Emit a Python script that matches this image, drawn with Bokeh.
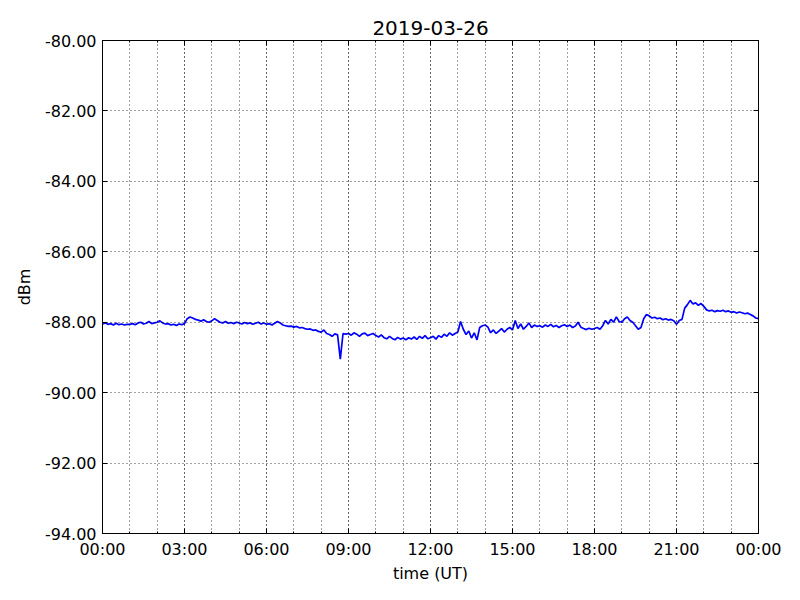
import numpy as np
from bokeh.plotting import figure
from bokeh.models import FixedTicker, PrintfTickFormatter, LinearAxis, ColumnDataSource
from bokeh.embed import file_html
from bokeh.resources import INLINE

title_text = "2019-03-26"
x_label = "time (UT)"
y_label = "dBm"
step_minutes = 6

# signal level (dBm), 10 samples per hour (every 6 minutes)
h00 = [-88.05, -88.02, -88.06, -88.04, -88.08, -88.03, -88.07, -88.05, -88.08, -88.06]
h01 = [-88.06, -88.04, -88.07, -88.02, -88.00, -88.05, -88.03, -87.98, -88.04, -88.02]
h02 = [-88.00, -87.96, -88.02, -88.05, -88.04, -88.08, -88.06, -88.09, -88.05, -88.07]
h03 = [-88.04, -87.90, -87.85, -87.88, -87.92, -87.94, -87.97, -87.93, -87.98, -88.00]
h04 = [-87.96, -87.90, -87.95, -88.00, -88.02, -87.98, -88.03, -88.01, -88.04, -88.00]
h05 = [-88.02, -88.05, -88.01, -88.04, -88.02, -88.06, -88.03, -88.00, -88.05, -88.02]
h06 = [-88.06, -88.04, -88.08, -88.03, -87.98, -88.02, -88.08, -88.10, -88.12, -88.11]
h07 = [-88.14, -88.12, -88.16, -88.15, -88.18, -88.20, -88.19, -88.23, -88.22, -88.26]
h08 = [-88.28, -88.22, -88.32, -88.35, -88.40, -88.33, -88.36, -89.05, -88.32, -88.34]
h09 = [-88.32, -88.37, -88.30, -88.34, -88.40, -88.33, -88.31, -88.38, -88.35, -88.32]
h10 = [-88.38, -88.42, -88.36, -88.44, -88.47, -88.40, -88.46, -88.50, -88.43, -88.48]
h11 = [-88.45, -88.50, -88.44, -88.48, -88.42, -88.49, -88.40, -88.46, -88.38, -88.47]
h12 = [-88.44, -88.40, -88.48, -88.38, -88.43, -88.34, -88.40, -88.30, -88.37, -88.32]
h13 = [-88.28, -87.98, -88.20, -88.35, -88.25, -88.45, -88.30, -88.50, -88.15, -88.10]
h14 = [-88.08, -88.14, -88.30, -88.22, -88.32, -88.25, -88.18, -88.28, -88.20, -88.15]
h15 = [-88.22, -87.95, -88.18, -88.05, -88.20, -88.12, -88.02, -88.15, -88.08, -88.12]
h16 = [-88.10, -88.14, -88.08, -88.12, -88.06, -88.13, -88.09, -88.15, -88.10, -88.07]
h17 = [-88.12, -88.08, -88.15, -88.11, -88.00, -88.14, -88.18, -88.21, -88.17, -88.20]
h18 = [-88.18, -88.15, -88.20, -88.10, -87.95, -88.05, -87.92, -88.00, -87.85, -87.98]
h19 = [-88.00, -87.90, -87.85, -87.95, -88.00, -88.10, -88.20, -88.15, -87.90, -87.78]
h20 = [-87.82, -87.88, -87.86, -87.90, -87.88, -87.93, -87.90, -87.94, -87.92, -87.96]
h21 = [-88.06, -87.95, -87.92, -87.60, -87.50, -87.38, -87.48, -87.45, -87.52, -87.47]
h22 = [-87.55, -87.65, -87.68, -87.66, -87.70, -87.67, -87.69, -87.66, -87.70, -87.68]
h23 = [-87.72, -87.70, -87.74, -87.71, -87.73, -87.76, -87.74, -87.78, -87.82, -87.88]
h24 = [-87.90]

hours_data = [h00, h01, h02, h03, h04, h05, h06, h07, h08, h09, h10, h11,
              h12, h13, h14, h15, h16, h17, h18, h19, h20, h21, h22, h23, h24]

x_major_ticks = [0, 3, 6, 9, 12, 15, 18, 21, 24]
x_tick_labels = ["00:00", "03:00", "06:00", "09:00", "12:00", "15:00", "18:00", "21:00", "00:00"]
x_minor_ticks = list(range(0, 25))
y_ticks = [-94, -92, -90, -88, -86, -84, -82, -80]

values = [v for h in hours_data for v in h]
t_hours = np.arange(len(values)) * step_minutes / 60.0
src = ColumnDataSource(dict(t=t_hours, v=values))

FONT = "DejaVu Sans"

p = figure(width=792, height=592, output_backend="svg", toolbar_location=None,
           x_range=(0, 24), y_range=(-94, -80),
           min_border_left=102, min_border_right=34, min_border_top=40, min_border_bottom=59,
           background_fill_color="white", border_fill_color="white")

p.line("t", "v", source=src, line_color="#0000ff", line_width=1.7)

p.title.text = title_text
p.title.align = "center"
p.title.text_font = FONT
p.title.text_font_size = "20px"
p.title.text_font_style = "normal"
p.title.text_color = "black"
p.title.standoff = 11

p.outline_line_color = "black"
p.outline_line_width = 1
p.outline_line_alpha = 1

xt = FixedTicker(ticks=x_major_ticks, minor_ticks=x_minor_ticks)
yt = FixedTicker(ticks=y_ticks, minor_ticks=[])
overrides = {t: lab for t, lab in zip(x_major_ticks, x_tick_labels)}

xa = p.xaxis[0]
xa.ticker = xt
xa.major_label_overrides = overrides
ya = p.yaxis[0]
ya.ticker = yt
ya.formatter = PrintfTickFormatter(format="%.2f")

for ax in (xa, ya):
    ax.major_tick_in = 5
    ax.major_tick_out = 0
    ax.minor_tick_in = 2
    ax.minor_tick_out = 0
    ax.axis_line_color = "black"
    ax.major_tick_line_color = "black"
    ax.minor_tick_line_color = "black"
    ax.major_label_text_font = FONT
    ax.major_label_text_font_size = "16px"
    ax.major_label_text_color = "black"
    ax.major_label_standoff = 6
    ax.axis_label_text_font = FONT
    ax.axis_label_text_font_size = "16px"
    ax.axis_label_text_font_style = "normal"
    ax.axis_label_text_color = "black"
ya.minor_tick_in = 0
xa.axis_label = x_label
ya.axis_label = y_label
xa.axis_label_standoff = 2
ya.axis_label_standoff = 8

top = LinearAxis(ticker=xt, major_label_overrides={t: "" for t in x_major_ticks},
                 major_label_text_font_size="1px", major_tick_in=5, major_tick_out=0,
                 minor_tick_in=2, minor_tick_out=0, major_label_standoff=0, axis_line_color="black")
right = LinearAxis(ticker=yt, major_label_overrides={t: "" for t in y_ticks},
                   major_label_text_font_size="1px", major_tick_in=5, major_tick_out=0,
                   minor_tick_in=0, minor_tick_out=0, major_label_standoff=0, axis_line_color="black")
p.add_layout(top, "above")
p.add_layout(right, "right")

p.xgrid.ticker = xt
p.ygrid.ticker = yt
for g in (p.xgrid, p.ygrid):
    g.grid_line_color = "black"
    g.grid_line_dash = "1 3"
    g.grid_line_width = 1
    g.grid_line_alpha = 0.75
p.xgrid.minor_grid_line_color = "black"
p.xgrid.minor_grid_line_dash = "1 3"
p.xgrid.minor_grid_line_alpha = 0.75
p.xgrid.level = "overlay"
p.ygrid.level = "overlay"

open("out.html", "w").write(file_html(p, INLINE))
